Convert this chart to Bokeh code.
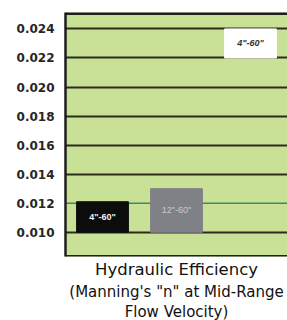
from bokeh.plotting import figure
from bokeh.models import (Range1d, FixedTicker, PrintfTickFormatter, Span, Title,
                          ColumnDataSource, FactorRange)
from bokeh.embed import file_html
from bokeh.resources import INLINE

# ---- data ----
pipes = ["Pipe A", "Pipe B", "Pipe C"]
n_low = [0.010, 0.010, 0.022]
n_high = [0.0121, 0.0130, 0.024]
size_labels = ['4"-60"', '12"-60"', '4"-60"']
bar_colors = ["#0c0c0c", "#808087", "#ffffff"]
label_colors = ["#f0f0f0", "#c9c9cf", "#333333"]
label_styles = ["bold", "normal", "bold italic"]
y_ticks = [0.010, 0.012, 0.014, 0.016, 0.018, 0.020, 0.022, 0.024]
highlight_tick = 0.012
title_lines = ["Hydraulic Efficiency", "(Manning's \"n\" at Mid-Range", "Flow Velocity)"]
title_sizes = ["16.5px", "15px", "15px"]
title_standoffs = [3, 0, 0]

y_start, y_end = 0.00833, 0.02513

src = ColumnDataSource(dict(
    pipe=pipes, low=n_low, high=n_high,
    mid=[(a + b) / 2 for a, b in zip(n_low, n_high)],
    label=size_labels, color=bar_colors, lcolor=label_colors, lstyle=label_styles,
))

p = figure(width=287, height=320, x_range=FactorRange(*pipes, range_padding=0),
           y_range=Range1d(y_start, y_end), output_backend="svg",
           toolbar_location=None, min_border_left=65, min_border_right=0,
           min_border_top=12, min_border_bottom=62)
p.background_fill_color = "#c8e197"
p.border_fill_color = "white"
p.outline_line_color = None

# grid
p.xgrid.visible = False
p.ygrid.ticker = FixedTicker(ticks=[t for t in y_ticks if t != highlight_tick])
p.ygrid.grid_line_color = "#2c2c1c"
p.ygrid.grid_line_width = 2
p.add_layout(Span(location=highlight_tick, dimension="width", line_color="#3f8a66",
                  line_width=1.5, level="underlay"))

# bars
p.vbar(x="pipe", bottom="low", top="high", width=0.7, source=src,
       fill_color="color", line_color="color")
p.text(x="pipe", y="mid", text="label", source=src, text_color="lcolor",
       text_font_style="lstyle", text_font_size="9px", text_align="center",
       text_baseline="middle")

# y axis
ya = p.yaxis[0]
ya.ticker = FixedTicker(ticks=y_ticks)
ya.formatter = PrintfTickFormatter(format="%.3f")
ya.major_tick_in = 0
ya.major_tick_out = 0
ya.minor_tick_line_color = None
ya.axis_line_color = "#1e1e1e"
ya.axis_line_width = 2.5
ya.major_label_standoff = 11
ya.major_label_text_font = "DejaVu Sans"
ya.major_label_text_font_style = "bold"
ya.major_label_text_font_size = "12px"
ya.major_label_text_color = "#262626"

# frame top / bottom borders
p.xaxis.visible = False
p.add_layout(Span(location=y_start, dimension="width", line_color="#1e1e1e",
                  line_width=3, level="overlay"))
p.add_layout(Span(location=y_end, dimension="width", line_color="#1e1e1e",
                  line_width=5, level="overlay"))

for line, size, so in zip(title_lines, title_sizes, title_standoffs):
    p.add_layout(Title(text=line, align="center", text_font="DejaVu Sans",
                       text_font_size=size, text_font_style="normal",
                       text_color="#111111", standoff=so, offset=0), "below")

open("out.html", "w").write(file_html(p, INLINE))
